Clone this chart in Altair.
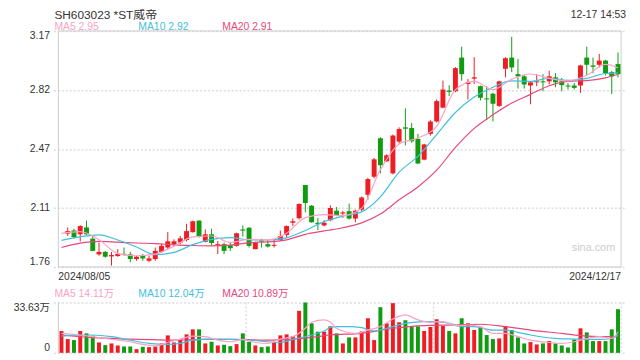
import altair as alt
import pandas as pd

TITLE = "SH603023 *ST威帝"
TIMESTAMP = "12-17 14:53"
X_TICK_LABELS = ["2024/08/05", "2024/12/17"]
X_TICK_SLOTS = [-0.5, 89.5]
PRICE_TICKS = [1.76, 2.1125, 2.465, 2.8175, 3.17]
VOL_TICKS = [0, 33.63]
WATERMARK = "sina.com"

# candles for slots 1..89 (slot 0 has volume only)
OPEN = [1.959, 1.978, 1.955, 1.996, 1.929, 1.835, 1.850, 1.823, 1.825, 1.838,
        1.835, 1.807, 1.827, 1.797, 1.807, 1.850, 1.876, 1.896, 1.906, 1.921,
        1.968, 2.037, 1.910, 1.955, 1.890, 1.896, 1.890, 1.886, 1.984, 1.994,
        1.866, 1.919, 1.896, 1.886, 1.921, 1.951, 2.024, 2.051, 2.250, 2.126,
        2.024, 2.008, 2.039, 2.096, 2.079, 2.093, 2.049, 2.102, 2.191, 2.299,
        2.529, 2.391, 2.319, 2.509, 2.594, 2.590, 2.525, 2.401, 2.555, 2.629,
        2.712, 2.814, 2.810, 3.011, 2.853, 2.885, 2.840, 2.767, 2.795, 2.722,
        2.944, 3.011, 2.912, 2.899, 2.844, 2.863, 2.869, 2.869, 2.893, 2.869,
        2.844, 2.844, 2.844, 3.011, 2.964, 2.968, 2.993, 2.924, 2.972]
HIGH = [1.996, 1.988, 2.010, 2.037, 1.945, 1.906, 1.856, 1.850, 1.866, 1.876,
        1.850, 1.827, 1.838, 1.827, 1.876, 1.900, 1.968, 1.925, 1.945, 2.018,
        2.037, 2.037, 1.984, 1.988, 1.915, 1.906, 1.906, 1.965, 2.008, 1.998,
        1.910, 1.929, 1.921, 1.921, 1.978, 2.008, 2.051, 2.139, 2.250, 2.130,
        2.053, 2.039, 2.128, 2.118, 2.096, 2.138, 2.102, 2.181, 2.293, 2.411,
        2.535, 2.433, 2.551, 2.594, 2.708, 2.620, 2.555, 2.496, 2.637, 2.761,
        2.873, 2.846, 2.954, 3.076, 2.883, 3.013, 2.844, 2.840, 2.801, 2.873,
        3.013, 3.135, 3.003, 2.909, 2.869, 2.912, 2.912, 2.932, 2.918, 2.889,
        2.859, 2.859, 2.968, 3.076, 3.011, 3.033, 2.997, 2.932, 3.042]
LOW = [1.945, 1.929, 1.912, 1.949, 1.856, 1.827, 1.815, 1.768, 1.821, 1.827,
       1.788, 1.797, 1.797, 1.788, 1.797, 1.843, 1.866, 1.882, 1.896, 1.912,
       1.965, 1.935, 1.906, 1.890, 1.837, 1.837, 1.856, 1.882, 1.941, 1.876,
       1.866, 1.876, 1.876, 1.876, 1.915, 1.935, 2.004, 2.043, 2.086, 2.024,
       1.980, 2.002, 2.033, 2.063, 2.053, 2.043, 2.027, 2.093, 2.161, 2.289,
       2.319, 2.387, 2.313, 2.496, 2.486, 2.502, 2.374, 2.397, 2.545, 2.623,
       2.708, 2.781, 2.804, 2.873, 2.761, 2.853, 2.755, 2.637, 2.629, 2.716,
       2.893, 2.924, 2.826, 2.826, 2.732, 2.840, 2.810, 2.850, 2.834, 2.810,
       2.820, 2.820, 2.800, 2.905, 2.918, 2.952, 2.905, 2.794, 2.893]
CLOSE = [1.974, 1.939, 2.004, 1.955, 1.856, 1.850, 1.821, 1.831, 1.838, 1.833,
         1.807, 1.821, 1.811, 1.811, 1.856, 1.886, 1.913, 1.913, 1.931, 1.974,
         2.033, 1.941, 1.955, 1.903, 1.896, 1.856, 1.872, 1.961, 1.977, 1.886,
         1.906, 1.912, 1.882, 1.892, 1.945, 2.004, 2.033, 2.136, 2.142, 2.027,
         2.016, 2.024, 2.112, 2.069, 2.086, 2.049, 2.096, 2.175, 2.285, 2.403,
         2.368, 2.427, 2.545, 2.584, 2.586, 2.511, 2.378, 2.492, 2.629, 2.751,
         2.820, 2.806, 2.948, 2.912, 2.863, 2.893, 2.771, 2.761, 2.735, 2.869,
         3.007, 2.952, 2.899, 2.850, 2.863, 2.869, 2.863, 2.899, 2.863, 2.846,
         2.838, 2.830, 2.964, 2.968, 2.956, 2.993, 2.918, 2.899, 2.912]

# volume in 万, slots 0..89
VOLUME = [14.57, 9.19, 8.52, 14.57, 13.0, 11.43, 6.95, 5.16, 6.28, 4.93,
          4.26, 4.26, 2.47, 4.04, 3.81, 4.26, 6.28, 11.66, 6.95, 8.97,
          12.33, 15.69, 15.69, 6.28, 7.40, 4.93, 5.38, 4.48, 5.83, 13.0,
          7.40, 4.93, 3.81, 4.26, 6.95, 11.66, 12.33, 11.21, 28.03, 33.63,
          19.73, 14.12, 14.12, 17.7, 13.0, 6.28, 10.31, 10.31, 14.35, 23.09,
          8.52, 30.49, 19.73, 33.18, 20.40, 21.75, 17.94, 17.71, 14.57, 17.26,
          22.42, 17.94, 14.57, 13.0, 23.09, 19.73, 15.25, 17.04, 11.88, 9.19,
          9.64, 17.94, 15.25, 10.31, 6.28, 7.17, 5.61, 6.28, 7.85, 6.28,
          4.93, 3.59, 8.97, 16.37, 13.68, 7.85, 7.85, 7.85, 15.69, 29.15]

MA_SLOTS = [0, 3, 6, 9, 12, 15, 18, 21, 24, 27, 30, 33, 36, 39, 42, 45, 48, 51,
            54, 57, 60, 63, 66, 69, 72, 75, 78, 81, 84, 87, 89]
MA5_VALUES = [1.961, 1.971, 1.923, 1.840, 1.827, 1.837, 1.884, 1.940, 1.945, 1.907,
              1.925, 1.922, 1.961, 2.055, 2.073, 2.067, 2.111, 2.341, 2.495, 2.530,
              2.600, 2.819, 2.869, 2.819, 2.881, 2.913, 2.887, 2.872, 2.905, 2.970, 2.95]
MA10_VALUES = [1.919, 1.940, 1.952, 1.921, 1.879, 1.833, 1.847, 1.893, 1.925, 1.935,
               1.922, 1.921, 1.934, 1.978, 2.031, 2.064, 2.089, 2.179, 2.326, 2.421,
               2.551, 2.683, 2.775, 2.834, 2.872, 2.869, 2.887, 2.875, 2.887, 2.916, 2.92]
MA20_VALUES = [1.876, 1.902, 1.913, 1.908, 1.903, 1.899, 1.892, 1.888, 1.886, 1.890,
               1.905, 1.910, 1.922, 1.955, 1.975, 1.994, 2.023, 2.076, 2.161, 2.238,
               2.338, 2.474, 2.588, 2.669, 2.739, 2.791, 2.843, 2.869, 2.873, 2.890, 2.91]

VMA5_SLOTS = [0, 3, 5, 7, 9, 11, 13, 15, 17, 19, 21, 23, 25, 27, 29, 31, 33, 35, 37, 39,
              40, 42, 43, 44, 47, 49, 51, 53, 55, 57, 59, 61, 63, 65, 67, 69, 71, 73, 75, 78,
              80, 82, 84, 86, 88, 89]
VMA5_VALUES = [13.0, 11.9, 10.8, 9.6, 8.5, 7.4, 5.6, 4.7, 6.9, 9.2, 11.2, 10.8, 8.5, 7.4,
               9.0, 6.9, 6.3, 9.2, 10.8, 16.4, 20.4, 22.0, 20.5, 16.4, 13.0, 15.2, 17.5,
               22.6, 25.3, 22.0, 20.4, 20.9, 18.2, 18.6, 17.5, 13.0, 13.0, 10.8, 8.5, 6.9,
               6.3, 7.4, 9.6, 10.8, 9.6, 14.11]
VMA10_SLOTS = [0, 5, 8, 11, 14, 17, 19, 21, 24, 27, 30, 33, 35, 37, 40, 42, 43, 44, 46, 48,
               50, 52, 55, 58, 60, 62, 64, 66, 69, 71, 73, 75, 79, 82, 84, 86, 88, 89]
VMA10_VALUES = [11.2, 11.9, 10.8, 8.5, 6.3, 5.6, 6.3, 8.5, 9.2, 9.0, 8.5, 7.4, 6.9, 9.0,
                11.9, 14.6, 17.0, 17.5, 17.5, 16.8, 14.6, 16.4, 19.7, 20.9, 20.9, 19.7,
                17.5, 17.5, 15.2, 15.2, 13.7, 11.9, 9.6, 9.2, 9.0, 9.0, 9.6, 12.04]
VMA20_SLOTS = [0, 5, 11, 18, 23, 28, 33, 37, 41, 43, 48, 53, 58, 63, 67, 71, 75, 80, 84, 88, 89]
VMA20_VALUES = [11.9, 10.1, 9.2, 8.5, 9.0, 9.0, 8.5, 9.2, 10.8, 11.9, 13.0, 16.4, 18.2,
                18.6, 19.1, 17.5, 15.2, 13.0, 11.2, 10.8, 10.89]

RED = "#ee1d23"
GREEN = "#119b11"
C_MA5 = "#f9a3c4"
C_MA10 = "#3fc0dc"
C_MA20 = "#e9477c"
GRID = "#dddddd"
FRAME = "#cccccc"
TXT = "#333333"
FONT = "Liberation Sans, Arial, Noto Sans CJK SC, sans-serif"

candles = pd.DataFrame({"slot": list(range(1, len(OPEN) + 1)), "open": OPEN,
                        "high": HIGH, "low": LOW, "close": CLOSE})
candles["dir"] = ["up" if c >= o else "down" for o, c in zip(OPEN, CLOSE)]
dir_map = dict(zip(candles["slot"], candles["dir"]))
vol = pd.DataFrame({"slot": list(range(len(VOLUME))), "vol": VOLUME})
vol["dir"] = [dir_map.get(s, "up") for s in vol["slot"]]

XS = alt.Scale(domain=[-0.5, 89.5], nice=False, zero=False)
PS = alt.Scale(domain=[1.76, 3.17], range=[239, 0], nice=False, zero=False)
VS = alt.Scale(domain=[0, 33.63], range=[326, 275], nice=False, zero=True)
CS = alt.Scale(domain=["up", "down"], range=[RED, GREEN])

AX_STYLE = dict(orient="left", title=None, grid=True, gridColor=GRID, gridDash=[2, 2],
                gridWidth=1.5, domain=False, ticks=False, labelFlush=True, labelPadding=4,
                labelFontSize=10.5, labelColor=TXT, labelFont=FONT)
PAX = alt.Axis(values=PRICE_TICKS, labelExpr="format(datum.value + 0.0001, '.2f')", **AX_STYLE)
VAX = alt.Axis(values=VOL_TICKS,
               labelExpr="datum.value == 0 ? '0' : format(datum.value, '.2f') + '万'", **AX_STYLE)

X = alt.X("slot:Q", scale=XS, axis=None)
COLOR = alt.Color("dir:N", scale=CS, legend=None)

frame = alt.Chart(pd.DataFrame({"slot": [-0.5], "x1": [89.5], "y0": [1.76], "y1": [3.17]})).mark_rect(
    fillOpacity=0, stroke=FRAME, strokeWidth=1).encode(
    x=X, x2="x1", y=alt.Y("y0:Q", scale=PS, axis=PAX), y2="y1")
wick = alt.Chart(candles).mark_rule(strokeWidth=1).encode(
    x=X, y=alt.Y("low:Q", scale=PS, axis=PAX), y2="high", color=COLOR)
body = alt.Chart(candles).mark_bar(size=5).encode(
    x=X, y=alt.Y("open:Q", scale=PS, axis=PAX), y2="close", color=COLOR)


def line(slots, values, color, scale, axis):
    df = pd.DataFrame({"slot": slots, "value": values})
    return alt.Chart(df).mark_line(color=color, strokeWidth=1.2, interpolate="monotone").encode(
        x=X, y=alt.Y("value:Q", scale=scale, axis=axis))


price = alt.layer(frame, wick, body,
                  line(MA_SLOTS, MA20_VALUES, C_MA20, PS, PAX),
                  line(MA_SLOTS, MA10_VALUES, C_MA10, PS, PAX),
                  line(MA_SLOTS, MA5_VALUES, C_MA5, PS, PAX))

vgrid = alt.Chart(pd.DataFrame({"slot": [29.5, 59.5, 89.5], "lo": [0] * 3, "hi": [33.63] * 3})).mark_rule(
    color=GRID, strokeDash=[2, 2], strokeWidth=1.5).encode(
    x=X, y=alt.Y("hi:Q", scale=VS, axis=VAX), y2="lo")
vleft = alt.Chart(pd.DataFrame({"slot": [-0.5], "lo": [0], "hi": [33.63]})).mark_rule(
    color=FRAME, strokeWidth=1).encode(x=X, y=alt.Y("hi:Q", scale=VS, axis=VAX), y2="lo")
vbars = alt.Chart(vol).mark_bar(size=4).encode(
    x=X, y=alt.Y("vol:Q", scale=VS, axis=VAX), color=COLOR)

volume = alt.layer(vgrid, vleft, vbars,
                   line(VMA20_SLOTS, VMA20_VALUES, C_MA20, VS, VAX),
                   line(VMA10_SLOTS, VMA10_VALUES, C_MA10, VS, VAX),
                   line(VMA5_SLOTS, VMA5_VALUES, C_MA5, VS, VAX))


def label(text, x, y, color, align="left", size=10.5, baseline="middle"):
    return alt.Chart(pd.DataFrame({"t": [text]})).mark_text(
        align=align, baseline=baseline, color=color, fontSize=size, font=FONT).encode(
        x=alt.value(x), y=alt.value(y), text="t:N")


def xlabel(i, align):
    df = pd.DataFrame({"slot": [X_TICK_SLOTS[i]], "t": [X_TICK_LABELS[i]]})
    return alt.Chart(df).mark_text(align=align, baseline="middle", color=TXT,
                                   fontSize=10.5, font=FONT).encode(
        x=X, y=alt.value(249), text="t:N")


texts = alt.layer(
    label(TITLE, 1, -21, TXT, size=12, baseline="top"),
    label(TIMESTAMP, 580, -21, TXT, align="right", baseline="top"),
    label(f"MA5 {MA5_VALUES[-1]:.2f}", 1, -4, C_MA5),
    label(f"MA10 {MA10_VALUES[-1]:.2f}", 86, -4, C_MA10),
    label(f"MA20 {MA20_VALUES[-1]:.2f}", 171, -4, C_MA20),
    xlabel(0, "left"),
    xlabel(1, "right"),
    label(f"MA5 {VMA5_VALUES[-1]:.2f}万", 1, 266, C_MA5),
    label(f"MA10 {VMA10_VALUES[-1]:.2f}万", 86, 266, C_MA10),
    label(f"MA20 {VMA20_VALUES[-1]:.2f}万", 171, 266, C_MA20),
    label(WATERMARK, 569, 220, "#cccccc", align="right", size=11),
)

chart = alt.layer(price, volume, texts).resolve_scale(y="independent").properties(
    width=580, height=326,
    autosize=alt.AutoSizeParams(type="none"),
    padding={"left": 46, "top": 21, "right": 6, "bottom": 5},
).configure_view(stroke=None)

chart.save("out.html", embed_options={"renderer": "svg", "actions": False})
